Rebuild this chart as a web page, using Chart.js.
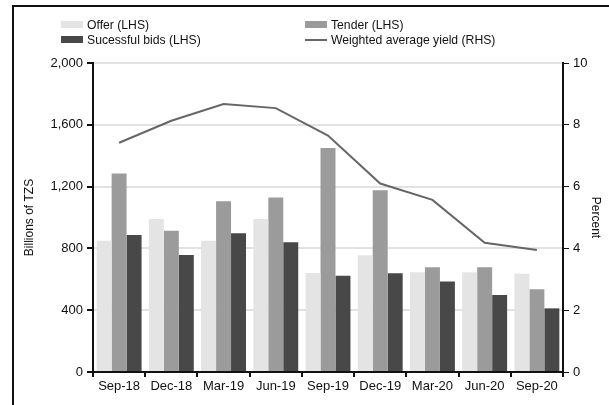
<!DOCTYPE html>
<html><head><meta charset="utf-8">
<script src="https://cdn.jsdelivr.net/npm/chart.js@4"></script>
<style>
html,body{margin:0;padding:0;background:#fff;}
#wrap{position:relative;width:609px;height:405px;overflow:hidden;font-family:"Liberation Sans",Arial,sans-serif;background:#fff;}
canvas{position:absolute;left:0;top:0;z-index:1;}
.lg{position:absolute;font-size:12.2px;color:#111;white-space:nowrap;line-height:14px;z-index:3;}
.sw{display:inline-block;width:22px;height:7px;vertical-align:middle;margin-right:4px;position:relative;top:-1px;}
.ln{display:inline-block;width:22px;height:2px;background:#666;vertical-align:middle;margin-right:4px;position:relative;top:-1px;}
</style></head>
<body><div id="wrap">
<canvas id="c" width="609" height="405"></canvas>
<div class="lg" style="left:61px;top:18px;"><span class="sw" style="background:#e4e4e4"></span>Offer (LHS)</div>
<div class="lg" style="left:305px;top:18px;"><span class="sw" style="background:#9b9b9b"></span>Tender (LHS)</div>
<div class="lg" style="left:61px;top:33px;"><span class="sw" style="background:#484848"></span>Sucessful bids (LHS)</div>
<div class="lg" style="left:305px;top:33px;"><span class="ln"></span>Weighted average yield (RHS)</div>
</div>
<script>
const categories = ["Sep-18","Dec-18","Mar-19","Jun-19","Sep-19","Dec-19","Mar-20","Jun-20","Sep-20"];
const offer = [850, 990, 850, 990, 640, 755, 645, 645, 636];
const tender = [1285, 915, 1105, 1130, 1450, 1176, 678, 678, 535];
const successful = [887, 757, 898, 840, 623, 639, 585, 498, 412];
const yieldRHS = [7.42, 8.13, 8.67, 8.54, 7.65, 6.10, 5.57, 4.18, 3.95];
const leftTicks = [0, 400, 800, 1200, 1600, 2000];
const rightTicks = [0, 2, 4, 6, 8, 10];

const framePlugin = {
  id:'frame',
  beforeDraw(chart){
    const ctx = chart.ctx;
    ctx.save();
    ctx.fillStyle = '#fff';
    ctx.fillRect(0,0,chart.width,chart.height);
    ctx.strokeStyle = '#111';
    ctx.lineWidth = 2;
    ctx.beginPath();
    ctx.moveTo(13, chart.height + 5);
    ctx.lineTo(13, 6);
    ctx.lineTo(chart.width + 5, 6);
    ctx.stroke();
    ctx.restore();
  }
};

const F = {family:'"Liberation Sans", Arial, sans-serif', size:13};
new Chart(document.getElementById('c'), {
  data: {
    labels: categories,
    datasets: [
      {type:'line', label:'Weighted average yield (RHS)', data:yieldRHS, yAxisID:'y1', borderColor:'#666', borderWidth:2, pointRadius:0, tension:0, order:0},
      {type:'bar', label:'Offer (LHS)', data:offer, yAxisID:'y', backgroundColor:'#e4e4e4', order:1},
      {type:'bar', label:'Tender (LHS)', data:tender, yAxisID:'y', backgroundColor:'#9b9b9b', order:1},
      {type:'bar', label:'Sucessful bids (LHS)', data:successful, yAxisID:'y', backgroundColor:'#484848', order:1}
    ]
  },
  plugins:[framePlugin],
  options: {
    responsive:false, animation:false,
    layout:{padding:{left:14, right:0, top:63, bottom:0}},
    datasets:{bar:{barPercentage:1, categoryPercentage:0.86}},
    plugins:{legend:{display:false}, tooltip:{enabled:false}},
    scales:{
      x:{
        grid:{display:true, drawOnChartArea:false, offset:true, color:'#111', tickLength:5, lineWidth:2},
        border:{display:true, color:'#111', width:2},
        ticks:{color:'#111', font:F, padding:2, maxRotation:0, autoSkip:false},
        afterFit:(s)=>{s.height=33;}
      },
      y:{
        position:'left', min:0, max:2000,
        afterBuildTicks:(s)=>{s.ticks=leftTicks.map(v=>({value:v}));},
        grid:{color:'#e2e2e2', lineWidth:2, tickLength:6, tickColor:'#111', drawTicks:true},
        border:{display:true, color:'#111', width:2},
        ticks:{color:'#111', font:F, padding:4, callback:(v)=>v.toLocaleString('en-US')},
        title:{display:true, text:'Billions of TZS', color:'#111', font:{family:F.family, size:12}, padding:{top:8,bottom:0}},
        afterFit:(s)=>{s.width=79;}
      },
      y1:{
        position:'right', min:0, max:10,
        afterBuildTicks:(s)=>{s.ticks=rightTicks.map(v=>({value:v}));},
        grid:{drawOnChartArea:false, tickLength:6, tickColor:'#111'},
        border:{display:true, color:'#111', width:2},
        ticks:{color:'#111', font:F, padding:4},
        title:{display:true, text:'Percent', color:'#111', font:{family:F.family, size:12}, padding:{top:6,bottom:0}},
        afterFit:(s)=>{s.width=46;}
      }
    }
  }
});
</script>
</body></html>
